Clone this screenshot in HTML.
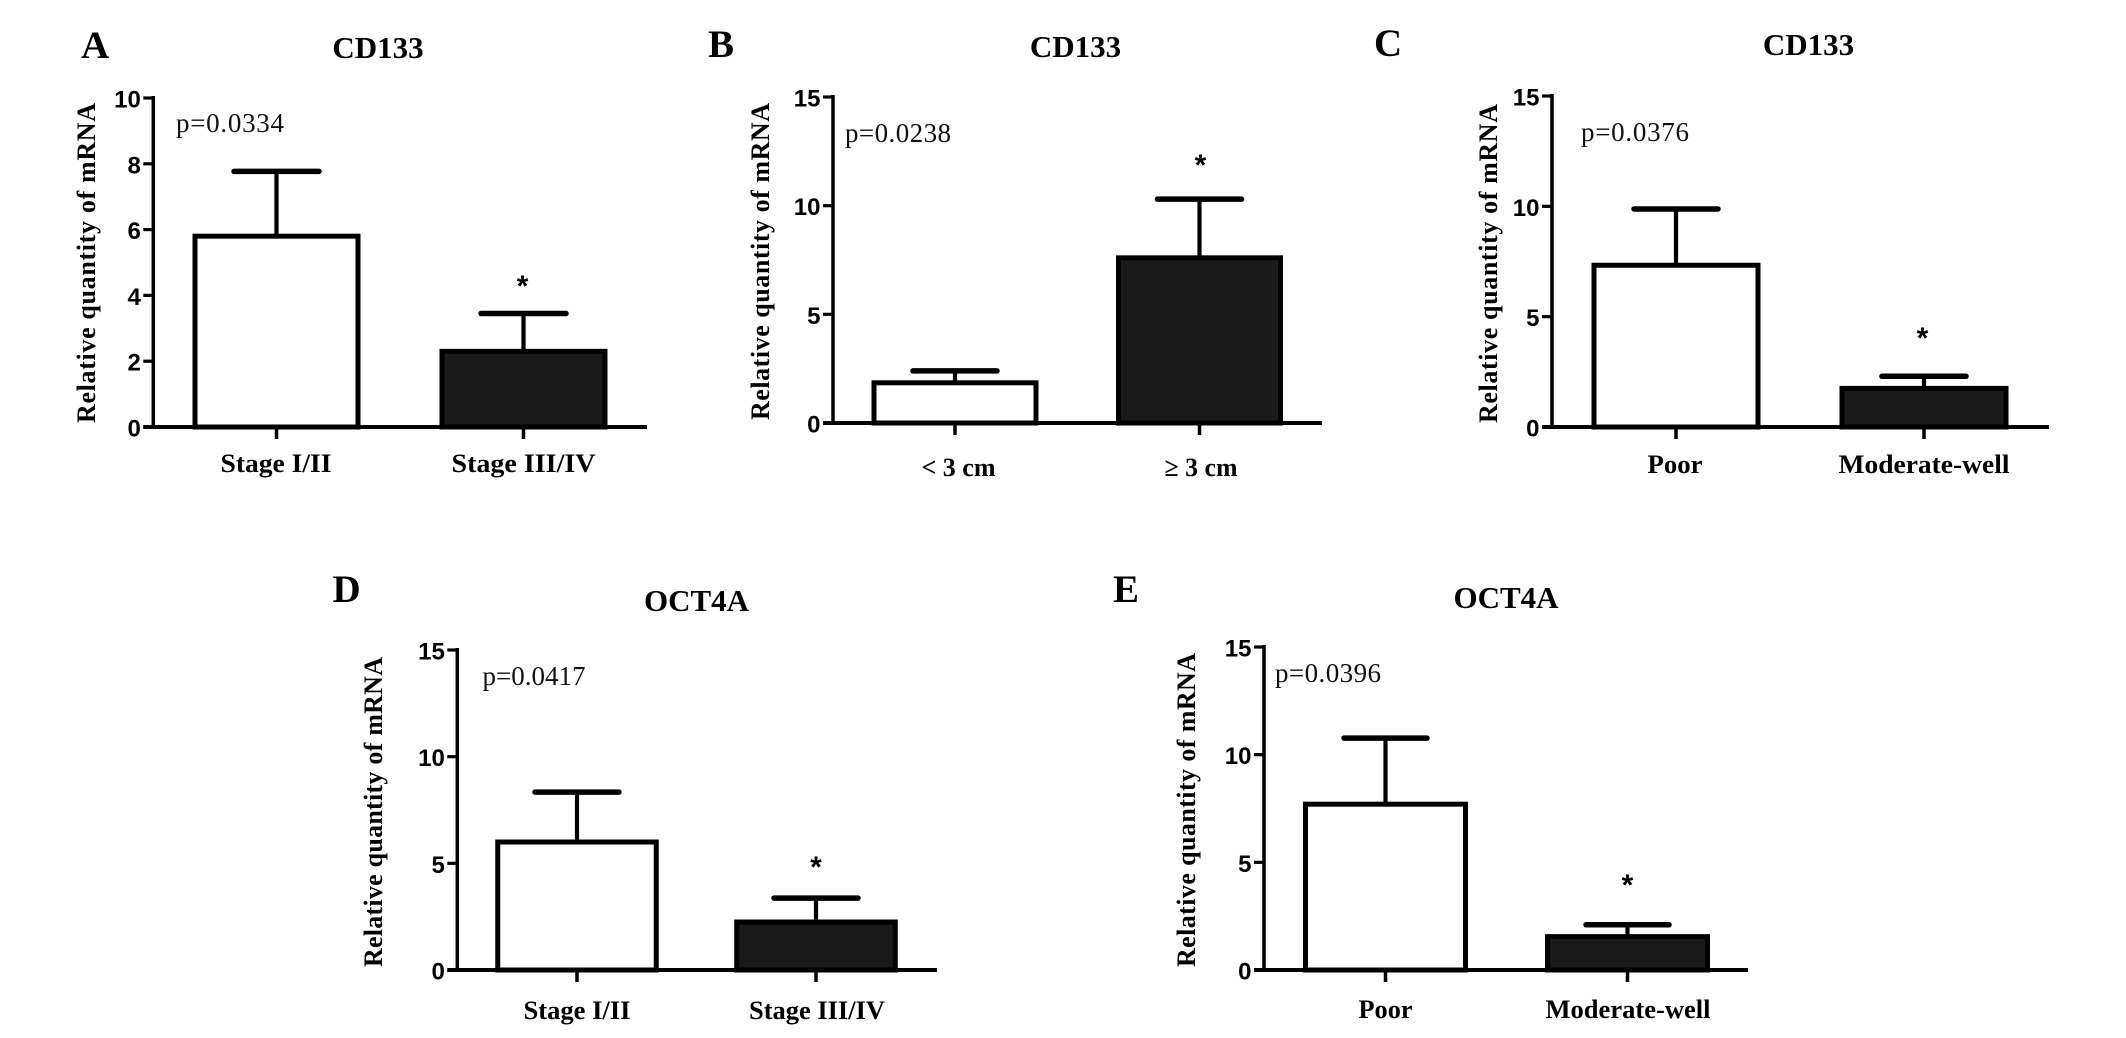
<!DOCTYPE html>
<html lang="en">
<head>
<meta charset="utf-8">
<title>CD133 and OCT4A relative mRNA quantity</title>
<style>
  html, body { margin: 0; padding: 0; background: #fff; }
  svg { display: block; }
  .serif { font-family: "Liberation Serif", serif; }
  .sans { font-family: "Liberation Sans", sans-serif; }
</style>
</head>
<body>
<svg id="figure" xmlns="http://www.w3.org/2000/svg" width="2126" height="1038" viewBox="0 0 2126 1038"></svg>
<script>
// ---- Chart data ----
const panelA_categories = ['Stage I/II', 'Stage III/IV'];
const panelA_values = [5.8, 2.3];
const panelA_errors = [1.97, 1.15];
const panelA_ticks = [0, 2, 4, 6, 8, 10];

const panelB_categories = ['< 3 cm', '≥ 3 cm'];
const panelB_values = [1.85, 7.6];
const panelB_errors = [0.55, 2.7];
const panelB_ticks = [0, 5, 10, 15];

const panelC_categories = ['Poor', 'Moderate-well'];
const panelC_values = [7.33, 1.75];
const panelC_errors = [2.55, 0.55];
const panelC_ticks = [0, 5, 10, 15];

const panelD_categories = ['Stage I/II', 'Stage III/IV'];
const panelD_values = [6.0, 2.25];
const panelD_errors = [2.34, 1.12];
const panelD_ticks = [0, 5, 10, 15];

const panelE_categories = ['Poor', 'Moderate-well'];
const panelE_values = [7.7, 1.55];
const panelE_errors = [3.07, 0.55];
const panelE_ticks = [0, 5, 10, 15];

// ---- Panel definitions: data references, annotation text and layout ----
const panels = [
  { id: 'a', letter: 'A', title: 'CD133', pText: 'p=0.0334', cats: panelA_categories, vals: panelA_values, errs: panelA_errors, ticks: panelA_ticks, star: 1,
    axisX: 153.3, topY: 98, baseY: 427, rightX: 647, firstC: 276.5, step: 247, barW: 163, capW: 85,
    letterX: 81, letterY: 58, titleX: 378, titleY: 58, pX: 176, pY: 132, pW: 108, yTitleX: 95, yTitleTop: 103, yTitleBottom: 423, labelY: 472, labelW: [111, 144], labelC: [276, 523.5], starOffset: -1, starY: 296 },
  { id: 'b', letter: 'B', title: 'CD133', pText: 'p=0.0238', cats: panelB_categories, vals: panelB_values, errs: panelB_errors, ticks: panelB_ticks, star: 1,
    axisX: 833, topY: 97, baseY: 423, rightX: 1322, firstC: 955, step: 244.5, barW: 162, capW: 84,
    letterX: 708, letterY: 57, titleX: 1075.5, titleY: 57, pX: 845, pY: 142, pW: 106, yTitleX: 769, yTitleTop: 103, yTitleBottom: 420, labelY: 476, labelW: [74, 73], labelC: [958.5, 1201], starOffset: 1, starY: 175 },
  { id: 'c', letter: 'C', title: 'CD133', pText: 'p=0.0376', cats: panelC_categories, vals: panelC_values, errs: panelC_errors, ticks: panelC_ticks, star: 1,
    axisX: 1552, topY: 96, baseY: 427, rightX: 2049, firstC: 1676, step: 248, barW: 164, capW: 84,
    letterX: 1374, letterY: 56, titleX: 1808.5, titleY: 55, pX: 1581, pY: 141, pW: 108, yTitleX: 1497, yTitleTop: 104, yTitleBottom: 423, labelY: 473, labelW: [55, 171], labelC: [1675, 1924], starOffset: -1.5, starY: 348 },
  { id: 'd', letter: 'D', title: 'OCT4A', pText: 'p=0.0417', cats: panelD_categories, vals: panelD_values, errs: panelD_errors, ticks: panelD_ticks, star: 1,
    axisX: 457.3, topY: 650, baseY: 970, rightX: 937, firstC: 577, step: 239, barW: 158.5, capW: 84,
    letterX: 332.5, letterY: 602, titleX: 696.5, titleY: 611, pX: 482.5, pY: 685, pW: 103, yTitleX: 382, yTitleTop: 657, yTitleBottom: 967, labelY: 1019, labelW: [107, 136], labelC: [577, 817], starOffset: 0, starY: 877 },
  { id: 'e', letter: 'E', title: 'OCT4A', pText: 'p=0.0396', cats: panelE_categories, vals: panelE_values, errs: panelE_errors, ticks: panelE_ticks, star: 1,
    axisX: 1264, topY: 647, baseY: 970, rightX: 1748, firstC: 1385.5, step: 242, barW: 160, capW: 83,
    letterX: 1113, letterY: 602, titleX: 1506, titleY: 608, pX: 1275, pY: 682, pW: 106, yTitleX: 1195, yTitleTop: 653, yTitleBottom: 967, labelY: 1018, labelW: [54, 165], labelC: [1385.5, 1628], starOffset: 0, starY: 895 }
];

const SVG_NS = 'http://www.w3.org/2000/svg';
const figure = document.getElementById('figure');

function make(parent, tag, attrs, text) {
  const el = document.createElementNS(SVG_NS, tag);
  for (const key in attrs) el.setAttribute(key, attrs[key]);
  if (text !== undefined) el.textContent = text;
  parent.appendChild(el);
  return el;
}

panels.forEach(function (p) {
  const maxTick = p.ticks[p.ticks.length - 1];
  const yScale = function (v) { return p.baseY - (v / maxTick) * (p.baseY - p.topY); };
  const xScale = function (i) { return p.firstC + i * p.step; };

  const group = make(figure, 'g', {});
  
  

  const letter = make(group, 'text', { x: p.letterX, y: p.letterY, class: 'serif', 'font-size': 39, 'font-weight': 'bold', fill: '#000' }, p.letter);
  
  

  const title = make(group, 'text', { x: p.titleX, y: p.titleY, class: 'serif', 'font-size': 31, 'font-weight': 'bold', 'text-anchor': 'middle', fill: '#000' }, p.title);
  
  

  const pValue = make(group, 'text', { x: p.pX, y: p.pY, class: 'serif', 'font-size': 27, fill: '#111', textLength: p.pW, lengthAdjust: 'spacing' }, p.pText);
  
  

  const midY = (p.yTitleTop + p.yTitleBottom) / 2;
  const yTitle = make(group, 'text', { x: p.yTitleX, y: midY, class: 'serif', 'font-size': 26, 'font-weight': 'bold', 'text-anchor': 'middle', fill: '#000', transform: 'rotate(-90 ' + p.yTitleX + ' ' + midY + ')', textLength: p.yTitleBottom - p.yTitleTop, lengthAdjust: 'spacing' }, 'Relative quantity of mRNA');
  
  

  // Bars and error bars
  p.vals.forEach(function (v, i) {
    const cx = xScale(i);
    const top = yScale(v);
    const capY = yScale(v + p.errs[i]);

    const stem = make(group, 'line', { x1: cx, x2: cx, y1: top, y2: capY, stroke: '#000', 'stroke-width': 4.2 });
    
    

    const cap = make(group, 'line', { x1: cx - p.capW / 2, x2: cx + p.capW / 2, y1: capY, y2: capY, stroke: '#000', 'stroke-width': 5.5, 'stroke-linecap': 'round' });
    
    

    const bar = make(group, 'rect', { x: cx - p.barW / 2, y: top, width: p.barW, height: p.baseY - top, fill: i === 0 ? '#fff' : '#1a1a1a', stroke: '#000', 'stroke-width': 5 });
    
    

    const tick = make(group, 'line', { x1: cx, x2: cx, y1: p.baseY, y2: p.baseY + 12, stroke: '#000', 'stroke-width': 3.5 });
    
    

    const label = make(group, 'text', { x: p.labelC[i], y: p.labelY, class: 'serif', 'font-size': 26, 'font-weight': 'bold', 'text-anchor': 'middle', fill: '#000', textLength: p.labelW[i], lengthAdjust: 'spacingAndGlyphs' }, p.cats[i]);
    
    
  });

  // Significance star above the second bar
  const star = make(group, 'text', { x: xScale(p.star) + p.starOffset, y: p.starY, class: 'sans', 'font-size': 30, 'font-weight': 'bold', 'text-anchor': 'middle', fill: '#000' }, '*');
  
  

  // Axes
  const yAxis = make(group, 'line', { x1: p.axisX, x2: p.axisX, y1: p.topY - 2, y2: p.baseY + 2, stroke: '#000', 'stroke-width': 3.5 });
  
  

  const xAxis = make(group, 'line', { x1: p.axisX - 10, x2: p.rightX, y1: p.baseY, y2: p.baseY, stroke: '#000', 'stroke-width': 4 });
  
  

  p.ticks.forEach(function (t) {
    const y = yScale(t);
    const yTick = make(group, 'line', { x1: p.axisX - 10, x2: p.axisX, y1: y, y2: y, stroke: '#000', 'stroke-width': 3.2 });
    
    

    const yLabel = make(group, 'text', { x: p.axisX - 12.5, y: y + 9.5, class: 'sans', 'font-size': 24, 'font-weight': 'bold', 'text-anchor': 'end', fill: '#000' }, String(t));
    
    
  });
});
</script>
</body>
</html>
